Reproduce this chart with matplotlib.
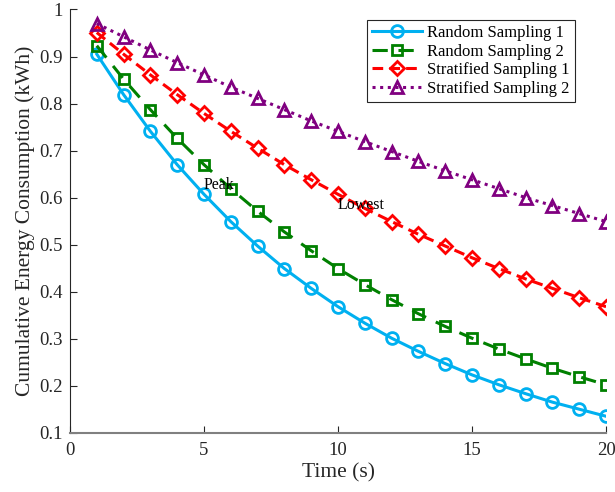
import matplotlib
matplotlib.use("Agg")
import matplotlib.pyplot as plt
from matplotlib.ticker import FuncFormatter

time_s = list(range(1, 21))
random_1 = [0.905, 0.819, 0.741, 0.670, 0.607, 0.549, 0.497, 0.449, 0.407, 0.368,
            0.333, 0.301, 0.273, 0.247, 0.223, 0.202, 0.183, 0.165, 0.150, 0.135]
random_2 = [0.923, 0.852, 0.787, 0.726, 0.670, 0.619, 0.571, 0.527, 0.487, 0.449,
            0.415, 0.383, 0.353, 0.326, 0.301, 0.278, 0.257, 0.237, 0.219, 0.202]
strat_1 = [0.951, 0.905, 0.861, 0.819, 0.779, 0.741, 0.705, 0.670, 0.638, 0.607,
           0.577, 0.549, 0.522, 0.497, 0.472, 0.449, 0.427, 0.407, 0.387, 0.368]
strat_2 = [0.970, 0.942, 0.914, 0.887, 0.861, 0.835, 0.811, 0.787, 0.763, 0.741,
           0.719, 0.698, 0.677, 0.657, 0.638, 0.619, 0.600, 0.583, 0.566, 0.549]
labels = ["Random Sampling 1", "Random Sampling 2", "Stratified Sampling 1", "Stratified Sampling 2"]
x_ticks = [0, 5, 10, 15, 20]
y_ticks = [0.1, 0.2, 0.3, 0.4, 0.5, 0.6, 0.7, 0.8, 0.9, 1.0]

plt.rcParams['font.family'] = ['Liberation Serif', 'DejaVu Serif']

fig = plt.figure(figsize=(6.15, 4.92), dpi=100)
ax = fig.add_axes([0.1138, 0.1205, 0.8716, 0.8602])

ax.plot(time_s, random_1, color='#00B0F0', lw=2.2, ls='-', marker='o', ms=8.5,
        mfc='none', mew=2, label=labels[0])
ax.plot(time_s, random_2, color='#008000', lw=2.2, ls=(0, (5, 3.5)), marker='s', ms=7.5,
        mfc='none', mew=2, label=labels[1])
ax.plot(time_s, strat_1, color='#FF0000', lw=2.2, ls=(0, (3.5, 2)), marker='D', ms=7,
        mfc='none', mew=2, label=labels[2])
ax.plot(time_s, strat_2, color='#800080', lw=2.2, ls=(0, (1, 1.5)), marker='^', ms=9,
        mfc='none', mew=2, label=labels[3])

ax.text(5, 0.627, 'Peak', fontsize=11.5, ha='left', va='center')
ax.text(10, 0.584, 'Lowest', fontsize=11.5, ha='left', va='center')

ax.set_xlim(0, 20)
ax.set_ylim(0.1, 1.0)
ax.set_xticks(x_ticks)
ax.set_yticks(y_ticks)
ax.yaxis.set_major_formatter(FuncFormatter(lambda v, p: ('%g' % round(v, 2))))
ax.tick_params(direction='in', labelsize=13.5, length=5, width=0.8, colors='#262626')
ax.tick_params(axis='x', pad=7)
ax.tick_params(axis='y', pad=5)
for s in ['top', 'right']:
    ax.spines[s].set_visible(False)
ax.spines['left'].set_color('#262626')
ax.spines['bottom'].set_color('#808080')
ax.spines['bottom'].set_linewidth(1.5)

ax.set_xlabel('Time (s)', fontsize=15.5, color='#262626', labelpad=3)
ax.set_ylabel('Cumulative Energy Consumption (kWh)', fontsize=15.5, color='#262626', labelpad=3)

leg = ax.legend(loc='upper right', bbox_to_anchor=(0.948, 0.983), fontsize=12,
                frameon=True, fancybox=False, edgecolor='#262626', framealpha=1,
                handlelength=3.0, borderpad=0.3, labelspacing=0.15, handletextpad=0.3,
                borderaxespad=0.2)
leg.get_frame().set_linewidth(0.8)

fig.savefig('out.png', dpi=100)
